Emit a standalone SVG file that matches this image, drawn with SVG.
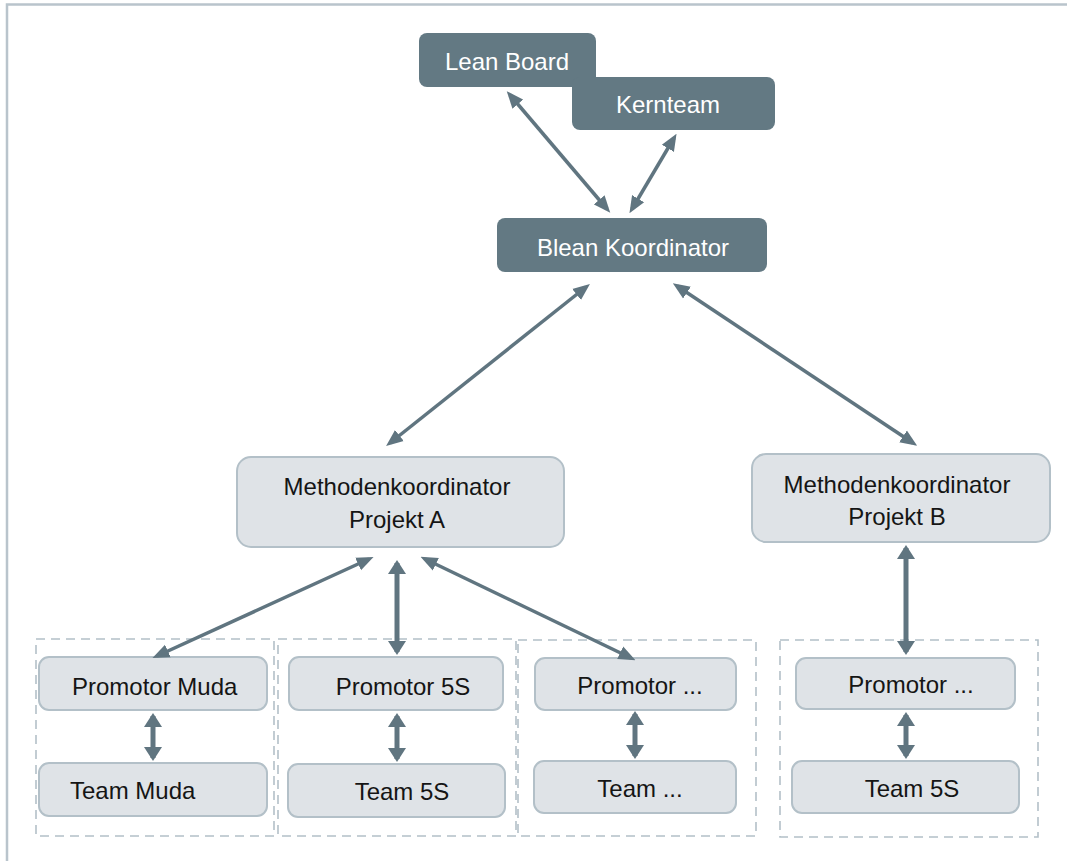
<svg xmlns="http://www.w3.org/2000/svg" width="1067" height="861" viewBox="0 0 1067 861">
<defs>
<style>
.frame{stroke:#b9c4cc;stroke-width:2.5;fill:none}
.dark rect{fill:#637983}
.dark text{fill:#ffffff;font-family:"Liberation Sans",Arial,sans-serif;font-size:24px}
.light rect{fill:#dfe3e7;stroke:#b3c0c8;stroke-width:2}
.light text{fill:#151515;font-family:"Liberation Sans",Arial,sans-serif;font-size:24px}
.grp{fill:none;stroke:#b3c0c8;stroke-width:1.6;stroke-dasharray:9 6}
.conn line{stroke:#607580;stroke-width:3.5;marker-start:url(#ah);marker-end:url(#ah)}
.conn line.v{stroke-width:5;marker-start:url(#ahv);marker-end:url(#ahv)}
</style>
<marker id="ah" markerUnits="userSpaceOnUse" markerWidth="17" markerHeight="16" viewBox="0 0 17 16" refX="12" refY="8" orient="auto-start-reverse">
<path d="M0,1 L17,8 L0,15 z" fill="#607580"/>
</marker>
<marker id="ahv" markerUnits="userSpaceOnUse" markerWidth="16" markerHeight="18" viewBox="0 0 16 18" refX="11" refY="9" orient="auto-start-reverse">
<path d="M0,0 L14,9 L0,18 z" fill="#607580"/>
</marker>
</defs>
<rect width="1067" height="861" fill="#ffffff"/>
<path class="frame" d="M7,861 L7,4.5 L1067,4.5"/>

<g id="groups">
<rect class="grp" x="36" y="639" width="238" height="197"/>
<rect class="grp" x="278" y="639" width="238" height="197"/>
<rect class="grp" x="518" y="640" width="238" height="196"/>
<rect class="grp" x="780" y="640" width="258" height="197"/>
</g>

<g id="lean-board" class="dark">
<rect x="419" y="33" width="177" height="54" rx="8"/>
<text x="507" y="70" text-anchor="middle">Lean Board</text>
</g>
<g id="kernteam" class="dark">
<rect x="572" y="77" width="203" height="53" rx="8"/>
<text x="668" y="113" text-anchor="middle">Kernteam</text>
</g>
<g id="blean-koordinator" class="dark">
<rect x="497" y="218" width="270" height="54" rx="8"/>
<text x="633" y="256" text-anchor="middle">Blean Koordinator</text>
</g>

<g id="methoden-a" class="light">
<rect x="237" y="457" width="327" height="90" rx="14"/>
<text x="397" y="495" text-anchor="middle">Methodenkoordinator</text>
<text x="397" y="528" text-anchor="middle">Projekt A</text>
</g>
<g id="methoden-b" class="light">
<rect x="752" y="454" width="298" height="88" rx="14"/>
<text x="897" y="493" text-anchor="middle">Methodenkoordinator</text>
<text x="897" y="525" text-anchor="middle">Projekt B</text>
</g>

<g id="promotor-muda" class="light">
<rect x="39" y="657" width="228" height="53" rx="10"/>
<text x="72" y="695">Promotor Muda</text>
</g>
<g id="team-muda" class="light">
<rect x="39" y="763" width="228" height="53" rx="10"/>
<text x="70" y="799">Team Muda</text>
</g>
<g id="promotor-5s" class="light">
<rect x="289" y="657" width="214" height="53" rx="10"/>
<text x="403" y="695" text-anchor="middle">Promotor 5S</text>
</g>
<g id="team-5s-a" class="light">
<rect x="288" y="764" width="217" height="53" rx="10"/>
<text x="402" y="800" text-anchor="middle">Team 5S</text>
</g>
<g id="promotor-dots-a" class="light">
<rect x="535" y="658" width="201" height="52" rx="10"/>
<text x="640" y="694" text-anchor="middle">Promotor ...</text>
</g>
<g id="team-dots" class="light">
<rect x="534" y="761" width="202" height="52" rx="10"/>
<text x="640" y="797" text-anchor="middle">Team ...</text>
</g>
<g id="promotor-dots-b" class="light">
<rect x="796" y="658" width="219" height="51" rx="10"/>
<text x="911" y="693" text-anchor="middle">Promotor ...</text>
</g>
<g id="team-5s-b" class="light">
<rect x="792" y="761" width="227" height="52" rx="10"/>
<text x="912" y="797" text-anchor="middle">Team 5S</text>
</g>

<g id="connectors" class="conn">
<line x1="510" y1="95" x2="607" y2="209"/>
<line x1="674" y1="138" x2="632" y2="209"/>
<line x1="586" y1="287" x2="390" y2="443"/>
<line x1="677" y1="286" x2="913" y2="443"/>
<line x1="369" y1="559" x2="157" y2="656"/>
<line x1="425" y1="559" x2="631" y2="658"/>
<line class="v" x1="397" y1="563" x2="397" y2="652"/>
<line class="v" x1="906" y1="548" x2="906" y2="652"/>
<line class="v" x1="153" y1="716" x2="153" y2="758"/>
<line class="v" x1="397" y1="716" x2="397" y2="759"/>
<line class="v" x1="635" y1="714" x2="635" y2="756"/>
<line class="v" x1="906" y1="715" x2="906" y2="756"/>
</g>
</svg>
